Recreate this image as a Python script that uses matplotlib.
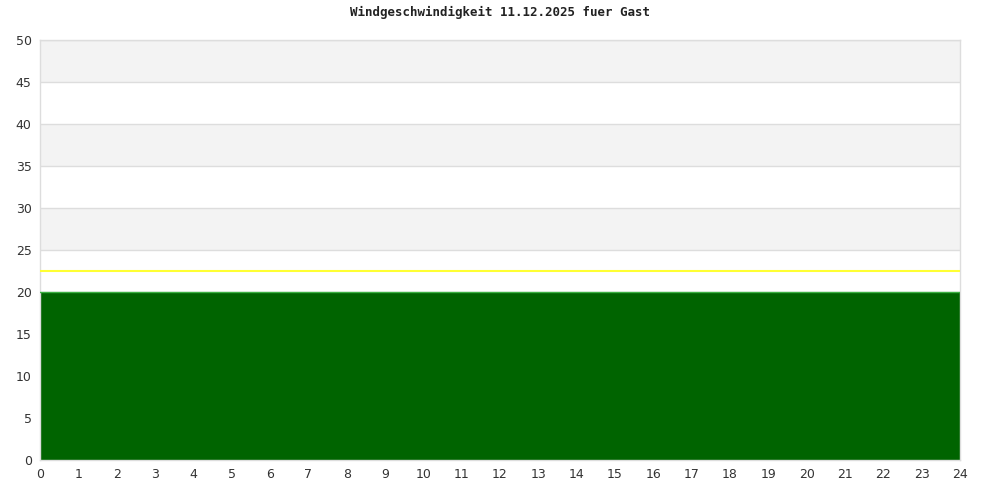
import matplotlib
matplotlib.use('Agg')
import matplotlib.pyplot as plt

# Wind gust data (hourly)
hours = list(range(0, 25))
gust = [20] * 25
limit = 22.5

title = 'Windgeschwindigkeit 11.12.2025 fuer Gast'
y_ticks = list(range(0, 55, 5))
x_ticks = list(range(0, 25))

fig = plt.figure(figsize=(10, 5), dpi=100)
ax = fig.add_axes([0.04, 0.08, 0.92, 0.84])

# alternating background bands
for lo in range(0, 50, 10):
    ax.axhspan(lo + 5, lo + 10, color='#f3f3f3', zorder=0, lw=0)
for y in y_ticks:
    ax.axhline(y, color='#dddddd', lw=1, zorder=1)

ax.fill_between(hours, gust, 0, color='#006400', lw=0, zorder=2)
ax.plot(hours, gust, color='#3cb043', lw=1, zorder=3)
ax.axhline(limit, color='#ffff33', lw=1.5, zorder=3)

ax.set_xlim(0, 24)
ax.set_ylim(0, 50)
ax.set_xticks(x_ticks)
ax.set_yticks(y_ticks)
ax.tick_params(length=0, labelsize=9, colors='#333333', pad=6)
for s in ax.spines.values():
    s.set_color('#dddddd')
    s.set_linewidth(1)

fig.text(0.5, 0.975, title, ha='center', va='center', fontsize=9,
         fontweight='bold', family='DejaVu Sans Mono', color='#222222')

fig.savefig('out.png', dpi=100, facecolor='white')
